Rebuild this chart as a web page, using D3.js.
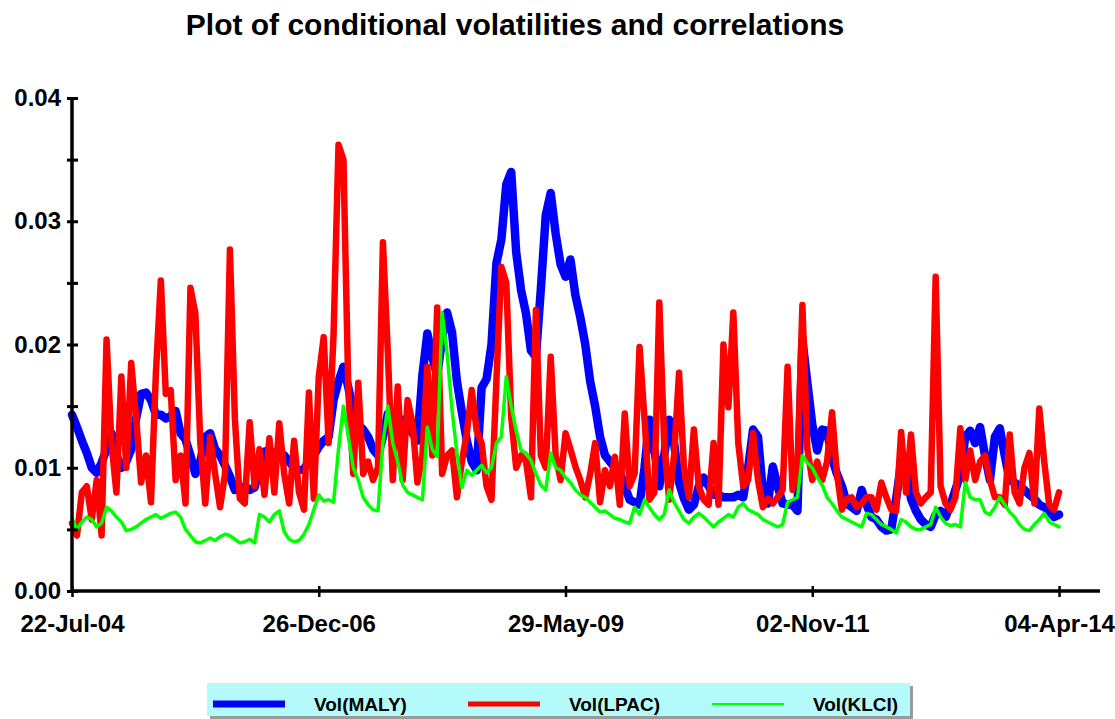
<!DOCTYPE html>
<html>
<head>
<meta charset="utf-8">
<script src="https://cdn.jsdelivr.net/npm/d3@7"></script>
<style>
  body { margin: 0; background: #fff; }
  text { font-family: "Liberation Sans", Arial, sans-serif; font-weight: bold; }
</style>
</head>
<body>
<div id="chart"></div>
<script>
// x tick labels (observation index -> date)
var tickIdx = [0, 50, 100, 150, 200];
var tickDates = ["22-Jul-04", "26-Dec-06", "29-May-09", "02-Nov-11", "04-Apr-14"];
var seriesNames = ["Vol(MALY)", "Vol(LPAC)", "Vol(KLCI)"];

// conditional volatilities (201 samples each)
var volMALY = [
  0.0143,0.0133,0.0122,0.0112,0.0100,0.0096,0.0104,0.0115,0.0128,0.0110,
  0.0100,0.0105,0.0115,0.0140,0.0160,0.0161,0.0155,0.0143,0.0143,0.0140,
  0.0142,0.0146,0.0128,0.0123,0.0110,0.0095,0.0105,0.0125,0.0128,0.0115,
  0.0110,0.0102,0.0093,0.0082,0.0083,0.0085,0.0082,0.0084,0.0100,0.0113,
  0.0114,0.0112,0.0112,0.0110,0.0105,0.0100,0.0098,0.0099,0.0105,0.0110,
  0.0117,0.0122,0.0125,0.0155,0.0170,0.0182,0.0165,0.0145,0.0135,0.0131,
  0.0125,0.0115,0.0110,0.0125,0.0144,0.0136,0.0139,0.0139,0.0135,0.0128,
  0.0122,0.0175,0.0209,0.0190,0.0175,0.0205,0.0226,0.0210,0.0170,0.0145,
  0.0122,0.0105,0.0098,0.0165,0.0172,0.0200,0.0266,0.0285,0.0330,0.0340,
  0.0275,0.0244,0.0225,0.0195,0.0190,0.0245,0.0305,0.0323,0.0290,0.0265,
  0.0255,0.0269,0.0240,0.0222,0.0200,0.0170,0.0150,0.0125,0.0110,0.0105,
  0.0100,0.0096,0.0085,0.0074,0.0072,0.0070,0.0100,0.0139,0.0115,0.0085,
  0.0110,0.0139,0.0120,0.0088,0.0075,0.0066,0.0070,0.0085,0.0092,0.0085,
  0.0078,0.0078,0.0076,0.0076,0.0076,0.0078,0.0076,0.0100,0.0131,0.0125,
  0.0080,0.0071,0.0101,0.0085,0.0071,0.0070,0.0070,0.0065,0.0204,0.0169,
  0.0135,0.0114,0.0131,0.0130,0.0108,0.0095,0.0085,0.0071,0.0068,0.0065,
  0.0082,0.0070,0.0060,0.0058,0.0052,0.0049,0.0050,0.0075,0.0104,0.0102,
  0.0075,0.0065,0.0058,0.0054,0.0052,0.0062,0.0065,0.0060,0.0070,0.0082,
  0.0095,0.0125,0.0130,0.0120,0.0133,0.0110,0.0090,0.0125,0.0132,0.0110,
  0.0090,0.0088,0.0085,0.0082,0.0078,0.0075,0.0070,0.0068,0.0065,0.0060,
  0.0062
];
var volLPAC = [
  0.0055,0.0045,0.0080,0.0085,0.0058,0.0090,0.0045,0.0204,0.0120,0.0080,
  0.0174,0.0100,0.0185,0.0140,0.0088,0.0110,0.0072,0.0177,0.0252,0.0160,
  0.0163,0.0090,0.0110,0.0071,0.0246,0.0225,0.0120,0.0071,0.0125,0.0095,
  0.0068,0.0095,0.0277,0.0140,0.0075,0.0071,0.0137,0.0085,0.0115,0.0078,
  0.0124,0.0080,0.0136,0.0095,0.0071,0.0122,0.0080,0.0066,0.0161,0.0075,
  0.0174,0.0206,0.0120,0.0208,0.0362,0.0350,0.0161,0.0095,0.0169,0.0095,
  0.0105,0.0090,0.0100,0.0283,0.0193,0.0090,0.0166,0.0090,0.0155,0.0136,
  0.0088,0.0110,0.0182,0.0110,0.0230,0.0095,0.0110,0.0114,0.0076,0.0105,
  0.0128,0.0163,0.0130,0.0120,0.0085,0.0074,0.0171,0.0263,0.0250,0.0141,
  0.0100,0.0110,0.0105,0.0076,0.0228,0.0110,0.0100,0.0190,0.0110,0.0090,
  0.0128,0.0115,0.0101,0.0090,0.0076,0.0095,0.0120,0.0072,0.0098,0.0085,
  0.0109,0.0070,0.0144,0.0085,0.0095,0.0198,0.0140,0.0074,0.0080,0.0234,
  0.0120,0.0074,0.0110,0.0177,0.0100,0.0076,0.0131,0.0085,0.0074,0.0070,
  0.0120,0.0070,0.0200,0.0149,0.0226,0.0120,0.0085,0.0090,0.0128,0.0090,
  0.0068,0.0075,0.0071,0.0076,0.0082,0.0182,0.0082,0.0100,0.0232,0.0115,
  0.0090,0.0105,0.0090,0.0105,0.0145,0.0095,0.0066,0.0075,0.0076,0.0068,
  0.0071,0.0076,0.0076,0.0066,0.0088,0.0076,0.0066,0.0065,0.0129,0.0080,
  0.0127,0.0080,0.0071,0.0076,0.0080,0.0255,0.0085,0.0071,0.0066,0.0076,
  0.0132,0.0090,0.0114,0.0090,0.0105,0.0110,0.0090,0.0076,0.0076,0.0070,
  0.0127,0.0080,0.0071,0.0100,0.0112,0.0071,0.0148,0.0105,0.0070,0.0066,
  0.0080
];
var volKLCI = [
  0.0059,0.0050,0.0056,0.0060,0.0058,0.0052,0.0055,0.0068,0.0065,0.0060,
  0.0056,0.0049,0.0050,0.0052,0.0055,0.0058,0.0060,0.0062,0.0059,0.0061,
  0.0063,0.0064,0.0060,0.0050,0.0045,0.0040,0.0039,0.0041,0.0043,0.0041,
  0.0044,0.0046,0.0045,0.0042,0.0039,0.0040,0.0042,0.0039,0.0062,0.0060,
  0.0056,0.0062,0.0065,0.0048,0.0042,0.0040,0.0041,0.0046,0.0054,0.0066,
  0.0078,0.0073,0.0074,0.0072,0.0115,0.0150,0.0125,0.0100,0.0090,0.0076,
  0.0070,0.0066,0.0065,0.0120,0.0150,0.0120,0.0105,0.0086,0.0080,0.0078,
  0.0076,0.0074,0.0133,0.0115,0.0109,0.0226,0.0193,0.0147,0.0112,0.0084,
  0.0098,0.0094,0.0098,0.0102,0.0096,0.0100,0.0120,0.0125,0.0174,0.0150,
  0.0130,0.0114,0.0112,0.0106,0.0095,0.0086,0.0082,0.0112,0.0100,0.0098,
  0.0092,0.0088,0.0082,0.0078,0.0076,0.0072,0.0068,0.0064,0.0065,0.0062,
  0.0059,0.0058,0.0056,0.0055,0.0068,0.0062,0.0074,0.0068,0.0062,0.0058,
  0.0062,0.0082,0.0072,0.0065,0.0058,0.0055,0.0060,0.0063,0.0060,0.0056,
  0.0052,0.0056,0.0059,0.0062,0.0060,0.0068,0.0071,0.0066,0.0064,0.0062,
  0.0058,0.0056,0.0054,0.0052,0.0054,0.0072,0.0074,0.0076,0.0110,0.0104,
  0.0100,0.0092,0.0086,0.0076,0.0071,0.0065,0.0060,0.0058,0.0056,0.0054,
  0.0052,0.0063,0.0062,0.0058,0.0054,0.0052,0.0050,0.0047,0.0058,0.0056,
  0.0052,0.0050,0.0050,0.0052,0.0054,0.0068,0.0060,0.0055,0.0053,0.0054,
  0.0052,0.0088,0.0076,0.0074,0.0074,0.0064,0.0062,0.0068,0.0076,0.0070,
  0.0064,0.0060,0.0054,0.0050,0.0049,0.0054,0.0058,0.0063,0.0056,0.0054,
  0.0052
];

var svgWidth = 1115;
var svgHeight = 719;

var margin = { top: 98, right: 15, bottom: 128, left: 72 };
var width = svgWidth - margin.left - margin.right;
var height = svgHeight - margin.top - margin.bottom;

var svg = d3.select("#chart")
  .append("svg")
  .attr("width", svgWidth)
  .attr("height", svgHeight);

svg.append("rect").attr("width", svgWidth).attr("height", svgHeight).attr("fill", "#fff");

// title
svg.append("text")
  .attr("x", 515)
  .attr("y", 35)
  .attr("text-anchor", "middle")
  .attr("font-size", "30px")
  .text("Plot of conditional volatilities and correlations");

var chartGroup = svg.append("g")
  .attr("transform", `translate(${margin.left}, ${margin.top})`);

// x axis runs a bit past the last observation
var xScale = d3.scaleLinear()
  .domain([0, 208.3])
  .range([0, width]);

var yScale = d3.scaleLinear()
  .domain([0, 0.04])
  .range([height, 0]);

// series, drawn blue, red then green on top
var series = [
  { values: volMALY, color: "#0000ff", w: 8.5 },
  { values: volLPAC, color: "#ff0000", w: 6.5 },
  { values: volKLCI, color: "#00ff00", w: 3.5 }
];

var line = d3.line()
  .x((d, i) => xScale(i))
  .y(d => yScale(d));

series.forEach(function(s) {
  chartGroup.append("path")
    .datum(s.values)
    .attr("fill", "none")
    .attr("stroke", s.color)
    .attr("stroke-width", s.w)
    .attr("stroke-linejoin", "round")
    .attr("stroke-linecap", "round")
    .attr("d", line);
});

// y axis: major ticks labelled, half ticks unlabelled
var yAxis = d3.axisLeft(yScale)
  .tickValues(d3.range(0, 0.0401, 0.005))
  .tickSize(5)
  .tickFormat(d => (Math.round(d * 1000) % 10 === 0) ? d3.format(".2f")(d) : "");

var yG = chartGroup.append("g").call(yAxis);
yG.select(".domain").attr("stroke", "#000").attr("stroke-width", 3.5).attr("d", `M0,0V${height}`);
yG.selectAll(".tick line").attr("x1", 6).attr("stroke-width", 3);
yG.selectAll(".tick text")
  .attr("x", -11)
  .attr("font-size", "24px")
  .attr("font-family", "Liberation Sans, Arial, sans-serif")
  .attr("fill", "#000");

// x axis
var xAxis = d3.axisBottom(xScale)
  .tickValues(tickIdx)
  .tickSize(6)
  .tickFormat((d, i) => tickDates[i]);

var xG = chartGroup.append("g")
  .attr("transform", `translate(0, ${height})`)
  .call(xAxis);
xG.select(".domain").attr("stroke", "#000").attr("stroke-width", 3.5).attr("d", `M0,0H${width}`);
xG.selectAll(".tick line").attr("y1", -5).attr("stroke-width", 2.5);
xG.selectAll(".tick text")
  .attr("y", 24)
  .attr("font-size", "24px")
  .attr("font-family", "Liberation Sans, Arial, sans-serif")
  .attr("fill", "#000");

// legend
var legend = svg.append("g").attr("transform", "translate(207, 683)");
legend.append("rect")
  .attr("x", 3).attr("y", 3)
  .attr("width", 703).attr("height", 33)
  .attr("fill", "#9a9a9a");
legend.append("rect")
  .attr("width", 703).attr("height", 33)
  .attr("fill", "#b4fafa");

var legendX = [6, 261, 505];
seriesNames.forEach(function(name, i) {
  legend.append("line")
    .attr("x1", legendX[i]).attr("x2", legendX[i] + 72)
    .attr("y1", 21).attr("y2", 21)
    .attr("stroke", series[i].color)
    .attr("stroke-width", series[i].w - 1.5);
  legend.append("text")
    .attr("x", legendX[i] + 101)
    .attr("y", 28)
    .attr("font-size", "19px")
    .text(name);
});
</script>
</body>
</html>
